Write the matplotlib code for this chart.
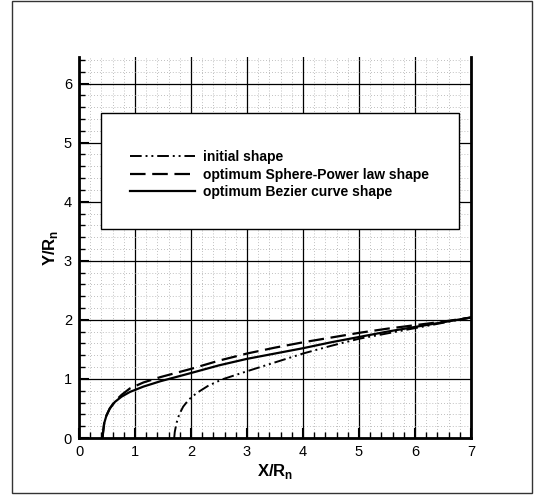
import numpy as np
import matplotlib
matplotlib.use("Agg")
import matplotlib.pyplot as plt
from matplotlib.patches import Rectangle
from matplotlib.ticker import MultipleLocator

plt.rcParams['font.family'] = ['Liberation Sans', 'DejaVu Sans']

# curve data
bezier_x = [0.42, 0.43, 0.45, 0.49, 0.55, 0.64, 0.76, 0.91, 1.15, 1.45, 2.0, 2.5, 3.0,
            3.5, 4.0, 4.5, 5.0, 5.5, 6.0, 6.5, 7.0]
bezier_y = [0.0, 0.1, 0.25, 0.38, 0.5, 0.61, 0.7, 0.78, 0.87, 0.96, 1.10, 1.23, 1.34,
            1.43, 1.52, 1.62, 1.71, 1.80, 1.88, 1.96, 2.04]

power_x = [0.42, 0.43, 0.45, 0.49, 0.55, 0.64, 0.76, 0.91, 1.15, 1.45, 2.0, 2.5, 3.0,
           3.5, 4.0, 4.5, 5.0, 5.5, 6.0, 6.5, 7.0]
power_y = [0.0, 0.1, 0.25, 0.38, 0.5, 0.62, 0.73, 0.84, 0.94, 1.03, 1.17, 1.31, 1.43,
           1.53, 1.62, 1.70, 1.78, 1.85, 1.91, 1.97, 2.04]

initial_x = [1.70, 1.71, 1.74, 1.79, 1.86, 1.96, 2.10, 2.30, 2.55, 3.0, 3.5, 4.0,
             4.5, 5.0, 5.5, 6.0, 6.5, 7.0]
initial_y = [0.0, 0.1, 0.25, 0.4, 0.53, 0.65, 0.76, 0.88, 0.99, 1.13, 1.28, 1.43,
             1.56, 1.68, 1.77, 1.86, 1.95, 2.04]

labels = ["initial shape", "optimum Sphere-Power law shape", "optimum Bezier curve shape"]

fig = plt.figure(figsize=(5.37, 4.97), dpi=100)
ax = fig.add_axes([79/537, 59/497, 392/537, 381/497])

# outer frame
fig.patches.append(Rectangle((12/537, 4/497), 520/537, 492/497, transform=fig.transFigure,
                             fill=False, edgecolor='#333333', linewidth=1.0))

ax.set_xlim(0, 7)
ax.set_ylim(0, 6.45)
ax.xaxis.set_major_locator(MultipleLocator(1))
ax.yaxis.set_major_locator(MultipleLocator(1))
ax.xaxis.set_minor_locator(MultipleLocator(0.2))
ax.yaxis.set_minor_locator(MultipleLocator(0.2))
ax.grid(which='major', color='black', linewidth=0.9, linestyle='-')
ax.grid(which='minor', color='#aaaaaa', linewidth=0.6, linestyle=(0, (1, 2.5)))
ax.set_axisbelow(True)

ax.spines['top'].set_visible(False)
for s in ['left', 'bottom', 'right']:
    ax.spines[s].set_linewidth(2.0)

ax.tick_params(which='major', direction='in', length=7, width=1.5, labelsize=10.5,
               top=False, right=False, pad=5)
ax.tick_params(which='minor', direction='in', length=4, width=1.0, top=False, right=False)

l1, = ax.plot(initial_x, initial_y, color='black', linewidth=1.4,
              linestyle=(0, (6, 2, 1, 2, 1, 2)))
l2, = ax.plot(power_x, power_y, color='black', linewidth=1.6, linestyle=(0, (7, 3)))
l3, = ax.plot(bezier_x, bezier_y, color='black', linewidth=1.6, linestyle='-')

# legend box (white panel over the grid)
ax.add_patch(Rectangle((0.40, 3.53), 6.39, 1.98, facecolor='white', edgecolor='black',
                       linewidth=1.0, zorder=4))
leg = ax.legend([l1, l2, l3], labels, loc='upper left', bbox_to_anchor=(0.115, 0.77),
                frameon=False, fontsize=10, handlelength=4.7, handletextpad=0.6,
                labelspacing=0.25, borderaxespad=0)
leg.set_zorder(5)
for t in leg.get_texts():
    t.set_fontweight('bold')

ax.set_xlabel(r'X/R$_\mathregular{n}$', fontsize=12, fontweight='bold', labelpad=2)
ax.set_ylabel(r'Y/R$_\mathregular{n}$', fontsize=12, fontweight='bold', labelpad=3)

fig.savefig('out.png', dpi=100)
